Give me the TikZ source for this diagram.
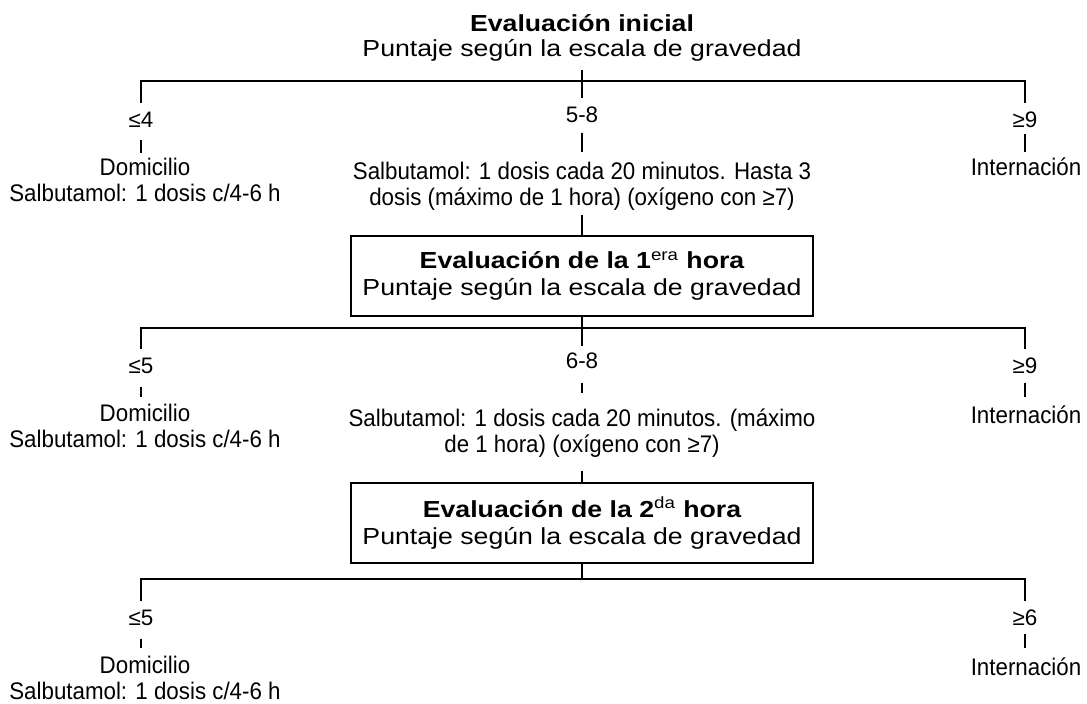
\documentclass[tikz,border=0pt]{standalone}
\usepackage{fontspec}
\setmainfont{Liberation Sans}
\newfontfamily\widefont[FakeStretch=1.15]{Liberation Sans}
\newfontfamily\narrowfont[FakeStretch=0.93]{Liberation Sans}
\begin{document}
\begin{tikzpicture}[x=0.5pt,y=-0.5pt,
  ln/.style={line width=1.3pt},
  brtext/.style={font=\narrowfont\fontsize{12}{13}\selectfont, align=center, inner sep=0pt, anchor=north},
  lbl/.style={font=\fontsize{11.2}{13}\selectfont, inner sep=0pt, anchor=base},
  hdr/.style={font=\widefont\fontsize{11.6}{12.6}\selectfont, align=center, inner sep=0pt, anchor=north},
  evalbox/.style={draw, line width=1.2pt, minimum width=231pt, minimum height=40pt, align=center,
    inner sep=0pt, font=\widefont\fontsize{11.6}{13.5}\selectfont}]
\useasboundingbox (0,0) rectangle (1087,703);

% header
\node[hdr] (t0) at (582,14) {{\bfseries Evaluación inicial}\\Puntaje según la escala de gravedad};
\coordinate (b1) at (582,81);

% row 1
\node[lbl] (a1L) at (141,127) {≤4};
\node[lbl] (a1C) at (582,122) {5-8};
\node[lbl] (a1R) at (1025,127) {≥9};
\node[brtext] (d1L) at (145,158) {Domicilio\\Salbutamol: 1 dosis c/4-6 h};
\node[brtext] (d1C) at (582,162) {Salbutamol: 1 dosis cada 20 minutos. Hasta 3\\dosis (máximo de 1 hora) (oxígeno con ≥7)};
\node[brtext] (d1R) at (1026,157) {Internación};

\node[evalbox] (box1) at (582,276) {{\bfseries Evaluación de la 1\textsuperscript{\mdseries era} hora}\\Puntaje según la escala de gravedad};
\coordinate (b2) at (582,328);

% row 2
\node[lbl] (a2L) at (141,373) {≤5};
\node[lbl] (a2C) at (582,368) {6-8};
\node[lbl] (a2R) at (1025,373) {≥9};
\node[brtext] (d2L) at (145,404) {Domicilio\\Salbutamol: 1 dosis c/4-6 h};
\node[brtext] (d2C) at (582,408) {Salbutamol: 1 dosis cada 20 minutos. (máximo\\de 1 hora) (oxígeno con ≥7)};
\node[brtext] (d2R) at (1026,405) {Internación};

\node[evalbox] (box2) at (582,523) {{\bfseries Evaluación de la 2\textsuperscript{\mdseries da} hora}\\Puntaje según la escala de gravedad};
\coordinate (b3) at (582,579);

% row 3
\node[lbl] (a3L) at (141,625) {≤5};
\node[lbl] (a3R) at (1025,625) {≥6};
\node[brtext] (d3L) at (145,656) {Domicilio\\Salbutamol: 1 dosis c/4-6 h};
\node[brtext] (d3R) at (1026,657) {Internación};

% connectors level 1
\draw[ln, shorten <=4pt, shorten >=4pt] (a1L.north) |- (b1) -| (a1R.north);
\draw[ln, shorten <=4pt, shorten >=4pt] (t0.south) -- (a1C.north);
\draw[ln, shorten <=6.5pt, shorten >=2.5pt] (a1L.south) -- (a1L.south |- d1L.north);
\draw[ln, shorten <=5pt, shorten >=5pt] (a1C.south) -- (d1C.north);
\draw[ln, shorten <=3pt, shorten >=2.5pt] (a1R.south) -- (a1R.south |- d1R.north);
\draw[ln, shorten <=2pt] (d1C.south) -- (box1.north);

% connectors level 2
\draw[ln, shorten >=3pt] (box1.south) -- (a2C.north);
\draw[ln, shorten <=4pt, shorten >=4pt] (a2L.north) |- (b2) -| (a2R.north);
\draw[ln, shorten <=6.5pt, shorten >=3.5pt] (a2L.south) -- (a2L.south |- d2L.north);
\draw[ln, shorten <=7pt, shorten >=7.5pt] (a2C.south) -- (d2C.north);
\draw[ln, shorten <=4.5pt, shorten >=4pt] (a2R.south) -- (a2R.south |- d2R.north);
\draw[ln, shorten <=7pt] (d2C.south) -- (box2.north);

% connectors level 3
\draw[ln] (box2.south) -- (b3);
\draw[ln, shorten <=4pt, shorten >=4pt] (a3L.north) |- (b3) -| (a3R.north);
\draw[ln, shorten <=6.5pt, shorten >=4pt] (a3L.south) -- (a3L.south |- d3L.north);
\draw[ln, shorten <=4pt, shorten >=4.5pt] (a3R.south) -- (a3R.south |- d3R.north);
\end{tikzpicture}
\end{document}
